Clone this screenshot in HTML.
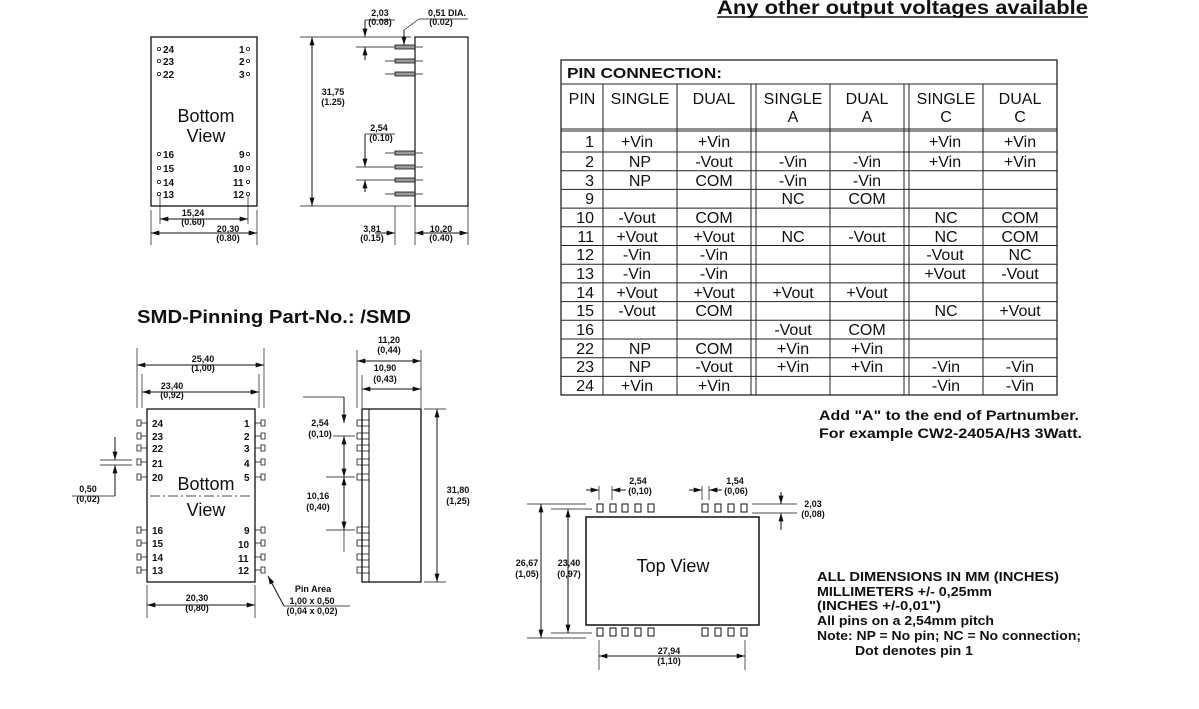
<!DOCTYPE html>
<html><head><meta charset="utf-8"><style>
html,body{margin:0;padding:0;background:#fff}
svg{display:block}
text{font-family:"Liberation Sans",Arial,sans-serif;fill:#111}
.d{font-size:9px;font-weight:bold;text-anchor:middle}
.p{font-size:10px;font-weight:bold}
.t{font-size:16px;text-anchor:middle}
.n{font-size:14px;font-weight:bold}
</style></head><body>
<svg width="1199" height="709" viewBox="0 0 1199 709" xmlns="http://www.w3.org/2000/svg">
<defs>
<marker id="a" viewBox="0 0 10 6" refX="10" refY="3" markerWidth="9" markerHeight="5" markerUnits="userSpaceOnUse" orient="auto-start-reverse"><path d="M0,0L10,3L0,6z" fill="#111"/></marker>
</defs>

<!-- Title -->
<text x="717" y="14" style="font-size:19px;font-weight:bold" textLength="371" lengthAdjust="spacingAndGlyphs">Any other output voltages available</text>
<line x1="717" y1="17" x2="1088" y2="17" stroke="#111" stroke-width="1.5"/>

<!-- Top-left bottom view -->
<g stroke="#111" fill="none">
<rect x="151" y="37" width="106" height="169" stroke-width="1.3"/>
<g stroke-width="0.8">
<circle cx="159" cy="49" r="1.6"/><circle cx="159" cy="61" r="1.6"/><circle cx="159" cy="74" r="1.6"/>
<circle cx="248" cy="49" r="1.6"/><circle cx="248" cy="61" r="1.6"/><circle cx="248" cy="74" r="1.6"/>
<circle cx="159" cy="154" r="1.6"/><circle cx="159" cy="168" r="1.6"/><circle cx="159" cy="182" r="1.6"/><circle cx="159" cy="194" r="1.6"/>
<circle cx="248" cy="154" r="1.6"/><circle cx="248" cy="168" r="1.6"/><circle cx="248" cy="182" r="1.6"/><circle cx="248" cy="194" r="1.6"/>
</g>
<line x1="151" y1="210" x2="151" y2="245" stroke-width="0.7"/>
<line x1="257" y1="210" x2="257" y2="245" stroke-width="0.7"/>
<line x1="160" y1="196" x2="160" y2="224" stroke-width="0.7"/>
<line x1="248" y1="196" x2="248" y2="224" stroke-width="0.7"/>
<line x1="160" y1="219" x2="248" y2="219" marker-start="url(#a)" marker-end="url(#a)"/>
<line x1="151" y1="233" x2="257" y2="233" marker-start="url(#a)" marker-end="url(#a)"/>
</g>
<text class="p" x="163" y="53">24</text><text class="p" x="163" y="65">23</text><text class="p" x="163" y="78">22</text>
<text class="p" x="239" y="53">1</text><text class="p" x="239" y="65">2</text><text class="p" x="239" y="78">3</text>
<text class="p" x="163" y="158">16</text><text class="p" x="163" y="172">15</text><text class="p" x="163" y="186">14</text><text class="p" x="163" y="198">13</text>
<text class="p" x="239" y="158">9</text><text class="p" x="233" y="172">10</text><text class="p" x="233" y="186">11</text><text class="p" x="233" y="198">12</text>
<text x="206" y="122" style="font-size:18px;text-anchor:middle">Bottom</text>
<text x="206" y="142" style="font-size:18px;text-anchor:middle">View</text>
<text class="d" x="193" y="216">15,24</text><text class="d" x="193" y="225">(0.60)</text>
<text class="d" x="228" y="232">20,30</text><text class="d" x="228" y="241">(0.80)</text>

<!-- Top-middle side view -->
<g stroke="#111" fill="none">
<line x1="300" y1="37" x2="411" y2="37" stroke-width="0.8"/>
<line x1="300" y1="206" x2="411" y2="206" stroke-width="0.8"/>
<rect x="415" y="37" width="53" height="169" stroke-width="1.2"/>
<line x1="312" y1="37" x2="312" y2="206" marker-start="url(#a)" marker-end="url(#a)"/>
<g stroke-width="0.8">
<line x1="356" y1="47" x2="423" y2="47"/><line x1="385" y1="61" x2="423" y2="61"/><line x1="385" y1="74" x2="423" y2="74"/>
<line x1="385" y1="153" x2="423" y2="153"/><line x1="356" y1="167" x2="423" y2="167"/><line x1="356" y1="180" x2="423" y2="180"/><line x1="385" y1="194" x2="423" y2="194"/>
</g>
<g fill="#999" stroke-width="0.8">
<rect x="395" y="45" width="20" height="4"/><rect x="395" y="59" width="20" height="4"/><rect x="395" y="72" width="20" height="4"/>
<rect x="395" y="151" width="20" height="4"/><rect x="395" y="165" width="20" height="4"/><rect x="395" y="178" width="20" height="4"/><rect x="395" y="192" width="20" height="4"/>
</g>
<line x1="365" y1="20" x2="365" y2="37" marker-end="url(#a)"/>
<line x1="365" y1="60" x2="365" y2="47" marker-end="url(#a)"/>
<line x1="365" y1="20" x2="395" y2="20" stroke-width="0.7"/>
<line x1="404" y1="30" x2="404" y2="45" marker-end="url(#a)"/>
<line x1="404" y1="30" x2="419" y2="19" stroke-width="0.7"/>
<line x1="419" y1="19" x2="468" y2="19" stroke-width="0.7"/>
<line x1="365" y1="134" x2="395" y2="134" stroke-width="0.7"/>
<line x1="365" y1="134" x2="365" y2="167" marker-end="url(#a)"/>
<line x1="365" y1="192" x2="365" y2="180" marker-end="url(#a)"/>
<line x1="395" y1="206" x2="395" y2="245" stroke-width="0.7"/>
<line x1="415" y1="206" x2="415" y2="245" stroke-width="0.7"/>
<line x1="468" y1="206" x2="468" y2="245" stroke-width="0.7"/>
<line x1="375" y1="233" x2="395" y2="233" marker-end="url(#a)"/>
<line x1="436" y1="233" x2="415" y2="233" marker-end="url(#a)"/>
<line x1="436" y1="233" x2="468" y2="233" marker-end="url(#a)"/>
</g>
<text class="d" x="333" y="95">31,75</text><text class="d" x="333" y="105">(1.25)</text>
<text class="d" x="380" y="16">2,03</text><text class="d" x="380" y="25">(0.08)</text>
<text class="d" x="447" y="16">0,51 DIA.</text><text class="d" x="441" y="25">(0.02)</text>
<text class="d" x="379" y="131">2,54</text><text class="d" x="381" y="141">(0.10)</text>
<text class="d" x="372" y="232">3,81</text><text class="d" x="372" y="241">(0.15)</text>
<text class="d" x="441" y="232">10,20</text><text class="d" x="441" y="241">(0.40)</text>

<!-- SMD heading -->
<text x="137" y="323" style="font-size:18px;font-weight:bold" textLength="274" lengthAdjust="spacingAndGlyphs">SMD-Pinning  Part-No.: /SMD</text>

<!-- SMD bottom view -->
<g stroke="#111" fill="none">
<rect x="147" y="409" width="108" height="173" stroke-width="1.3"/>
<line x1="150" y1="496" x2="252" y2="496" stroke-width="0.8" stroke-dasharray="10,3,2,3"/>
<g stroke-width="0.8">
<path d="M137,420h4v6h-4zM141,423h6"/><path d="M137,433h4v6h-4zM141,436h6"/><path d="M137,445h4v6h-4zM141,448h6"/><path d="M137,459h4v6h-4zM141,462h6"/><path d="M137,474h4v6h-4zM141,477h6"/>
<path d="M137,527h4v6h-4zM141,530h6"/><path d="M137,540h4v6h-4zM141,543h6"/><path d="M137,554h4v6h-4zM141,557h6"/><path d="M137,567h4v6h-4zM141,570h6"/>
<path d="M261,420h4v6h-4zM255,423h6"/><path d="M261,433h4v6h-4zM255,436h6"/><path d="M261,445h4v6h-4zM255,448h6"/><path d="M261,459h4v6h-4zM255,462h6"/><path d="M261,474h4v6h-4zM255,477h6"/>
<path d="M261,527h4v6h-4zM255,530h6"/><path d="M261,540h4v6h-4zM255,543h6"/><path d="M261,554h4v6h-4zM255,557h6"/><path d="M261,567h4v6h-4zM255,570h6"/>
</g>
<line x1="137" y1="348" x2="137" y2="408" stroke-width="0.7"/>
<line x1="264" y1="348" x2="264" y2="408" stroke-width="0.7"/>
<line x1="142" y1="374" x2="142" y2="408" stroke-width="0.7"/>
<line x1="259" y1="374" x2="259" y2="408" stroke-width="0.7"/>
<line x1="137" y1="365" x2="264" y2="365" marker-start="url(#a)" marker-end="url(#a)"/>
<line x1="142" y1="392" x2="259" y2="392" marker-start="url(#a)" marker-end="url(#a)"/>
<line x1="100" y1="460" x2="132" y2="460" stroke-width="0.7"/>
<line x1="100" y1="465" x2="132" y2="465" stroke-width="0.7"/>
<line x1="115" y1="437" x2="115" y2="460" marker-end="url(#a)"/>
<line x1="115" y1="496" x2="115" y2="465" marker-end="url(#a)"/>
<line x1="72" y1="496" x2="115" y2="496" stroke-width="0.7"/>
<line x1="147" y1="585" x2="147" y2="618" stroke-width="0.7"/>
<line x1="255" y1="585" x2="255" y2="618" stroke-width="0.7"/>
<line x1="147" y1="605" x2="255" y2="605" marker-start="url(#a)" marker-end="url(#a)"/>
<line x1="284" y1="606" x2="268" y2="576" marker-end="url(#a)"/>
<line x1="284" y1="606" x2="350" y2="606" stroke-width="0.7"/>
</g>
<text class="p" x="152" y="427">24</text><text class="p" x="152" y="440">23</text><text class="p" x="152" y="452">22</text><text class="p" x="152" y="467">21</text><text class="p" x="152" y="481">20</text>
<text class="p" x="152" y="534">16</text><text class="p" x="152" y="547">15</text><text class="p" x="152" y="561">14</text><text class="p" x="152" y="574">13</text>
<text class="p" x="244" y="427">1</text><text class="p" x="244" y="440">2</text><text class="p" x="244" y="452">3</text><text class="p" x="244" y="467">4</text><text class="p" x="244" y="481">5</text>
<text class="p" x="244" y="534">9</text><text class="p" x="238" y="548">10</text><text class="p" x="238" y="562">11</text><text class="p" x="238" y="574">12</text>
<text x="206" y="490" style="font-size:18px;text-anchor:middle">Bottom</text>
<text x="206" y="516" style="font-size:18px;text-anchor:middle">View</text>
<text class="d" x="203" y="362">25,40</text><text class="d" x="203" y="371">(1,00)</text>
<text class="d" x="172" y="389">23,40</text><text class="d" x="172" y="398">(0,92)</text>
<text class="d" x="88" y="492">0,50</text><text class="d" x="88" y="502">(0,02)</text>
<text class="d" x="197" y="601">20,30</text><text class="d" x="197" y="611">(0,80)</text>
<text class="d" x="313" y="592">Pin Area</text><text class="d" x="312" y="604">1,00 x 0,50</text><text class="d" x="312" y="614">(0,04 x 0,02)</text>

<!-- SMD side view -->
<g stroke="#111" fill="none">
<rect x="362" y="409" width="59" height="173" stroke-width="1.3"/>
<line x1="369" y1="409" x2="369" y2="582" stroke-width="1"/>
<g stroke-width="0.8">
<path d="M357,420h5v6h-5zM357,433h5v6h-5zM357,445h5v6h-5zM357,459h5v6h-5zM357,474h5v6h-5zM357,527h5v6h-5zM357,540h5v6h-5zM357,554h5v6h-5zM357,567h5v6h-5z"/>
<path d="M362,420h7v6h-7zM362,433h7v6h-7zM362,445h7v6h-7zM362,459h7v6h-7zM362,474h7v6h-7zM362,527h7v6h-7zM362,540h7v6h-7zM362,554h7v6h-7zM362,567h7v6h-7z"/>
</g>
<line x1="357" y1="350" x2="357" y2="408" stroke-width="0.7"/>
<line x1="362" y1="375" x2="362" y2="408" stroke-width="0.7"/>
<line x1="421" y1="350" x2="421" y2="408" stroke-width="0.7"/>
<line x1="357" y1="361" x2="421" y2="361" marker-start="url(#a)" marker-end="url(#a)"/>
<line x1="362" y1="389" x2="421" y2="389" marker-start="url(#a)" marker-end="url(#a)"/>
<line x1="424" y1="409" x2="446" y2="409" stroke-width="0.7"/>
<line x1="424" y1="582" x2="446" y2="582" stroke-width="0.7"/>
<line x1="437" y1="409" x2="437" y2="582" marker-start="url(#a)" marker-end="url(#a)"/>
<line x1="303" y1="397" x2="344" y2="397" stroke-width="0.7"/>
<line x1="344" y1="397" x2="344" y2="423" marker-end="url(#a)"/>
<line x1="333" y1="436" x2="355" y2="436" stroke-width="0.7"/>
<line x1="344" y1="436" x2="344" y2="477" marker-start="url(#a)" marker-end="url(#a)"/>
<line x1="326" y1="477" x2="355" y2="477" stroke-width="0.7"/>
<line x1="344" y1="477" x2="344" y2="530" marker-start="url(#a)" marker-end="url(#a)"/>
<line x1="326" y1="530" x2="355" y2="530" stroke-width="0.7"/>
<line x1="344" y1="530" x2="344" y2="552" stroke-width="0.7"/>
</g>
<text class="d" x="389" y="343">11,20</text><text class="d" x="389" y="353">(0,44)</text>
<text class="d" x="385" y="371">10,90</text><text class="d" x="385" y="382">(0,43)</text>
<text class="d" x="458" y="493">31,80</text><text class="d" x="458" y="504">(1,25)</text>
<text class="d" x="320" y="426">2,54</text><text class="d" x="320" y="437">(0,10)</text>
<text class="d" x="318" y="499">10,16</text><text class="d" x="318" y="510">(0,40)</text>

<!-- Top view -->
<g stroke="#111" fill="none">
<rect x="586" y="517" width="173" height="108" stroke-width="1.5"/>
<g stroke-width="1">
<rect x="597" y="504" width="6" height="8"/><rect x="610" y="504" width="6" height="8"/><rect x="622" y="504" width="6" height="8"/><rect x="635" y="504" width="6" height="8"/><rect x="648" y="504" width="6" height="8"/>
<rect x="702" y="504" width="6" height="8"/><rect x="715" y="504" width="6" height="8"/><rect x="728" y="504" width="6" height="8"/><rect x="741" y="504" width="6" height="8"/>
<rect x="597" y="628" width="6" height="8"/><rect x="610" y="628" width="6" height="8"/><rect x="622" y="628" width="6" height="8"/><rect x="635" y="628" width="6" height="8"/><rect x="648" y="628" width="6" height="8"/>
<rect x="702" y="628" width="6" height="8"/><rect x="715" y="628" width="6" height="8"/><rect x="728" y="628" width="6" height="8"/><rect x="741" y="628" width="6" height="8"/>
</g>
<line x1="527" y1="504" x2="586" y2="504" stroke-width="0.7"/>
<line x1="551" y1="509" x2="592" y2="509" stroke-width="0.7"/>
<line x1="551" y1="633" x2="592" y2="633" stroke-width="0.7"/>
<line x1="527" y1="638" x2="586" y2="638" stroke-width="0.7"/>
<line x1="541" y1="504" x2="541" y2="638" marker-start="url(#a)" marker-end="url(#a)"/>
<line x1="568" y1="509" x2="568" y2="633" marker-start="url(#a)" marker-end="url(#a)"/>
<line x1="599" y1="486" x2="599" y2="500" stroke-width="0.7"/>
<line x1="612" y1="486" x2="612" y2="500" stroke-width="0.7"/>
<line x1="586" y1="490" x2="599" y2="490" marker-end="url(#a)"/>
<line x1="626" y1="490" x2="612" y2="490" marker-end="url(#a)"/>
<line x1="702" y1="486" x2="702" y2="500" stroke-width="0.7"/>
<line x1="709" y1="486" x2="709" y2="500" stroke-width="0.7"/>
<line x1="689" y1="490" x2="702" y2="490" marker-end="url(#a)"/>
<line x1="722" y1="490" x2="709" y2="490" marker-end="url(#a)"/>
<line x1="752" y1="504" x2="797" y2="504" stroke-width="0.7"/>
<line x1="752" y1="513" x2="797" y2="513" stroke-width="0.7"/>
<line x1="781" y1="492" x2="781" y2="504" marker-end="url(#a)"/>
<line x1="781" y1="530" x2="781" y2="513" marker-end="url(#a)"/>
<line x1="599" y1="640" x2="599" y2="670" stroke-width="0.7"/>
<line x1="745" y1="640" x2="745" y2="670" stroke-width="0.7"/>
<line x1="599" y1="656" x2="745" y2="656" marker-start="url(#a)" marker-end="url(#a)"/>
</g>
<text x="673" y="572" style="font-size:18px;text-anchor:middle">Top View</text>
<text class="d" x="638" y="484">2,54</text><text class="d" x="640" y="494">(0,10)</text>
<text class="d" x="735" y="484">1,54</text><text class="d" x="736" y="494">(0,06)</text>
<text class="d" x="813" y="507">2,03</text><text class="d" x="813" y="517">(0,08)</text>
<text class="d" x="527" y="566">26,67</text><text class="d" x="527" y="577">(1,05)</text>
<text class="d" x="569" y="566">23,40</text><text class="d" x="569" y="577">(0,97)</text>
<text class="d" x="669" y="654">27,94</text><text class="d" x="669" y="664">(1,10)</text>

<!-- Notes -->
<text class="n" x="819" y="420" textLength="260" lengthAdjust="spacingAndGlyphs">Add "A" to the end of Partnumber.</text>
<text class="n" x="819" y="438" textLength="263" lengthAdjust="spacingAndGlyphs">For example CW2-2405A/H3 3Watt.</text>
<g style="font-size:13px;font-weight:bold">
<text x="817" y="581" textLength="242" lengthAdjust="spacingAndGlyphs">ALL  DIMENSIONS IN  MM  (INCHES)</text>
<text x="817" y="596" textLength="175" lengthAdjust="spacingAndGlyphs">MILLIMETERS  +/- 0,25mm</text>
<text x="817" y="610" textLength="124" lengthAdjust="spacingAndGlyphs">(INCHES   +/-0,01")</text>
<text x="817" y="625" textLength="177" lengthAdjust="spacingAndGlyphs">All pins on a 2,54mm pitch</text>
<text x="817" y="640" textLength="264" lengthAdjust="spacingAndGlyphs">Note: NP = No pin; NC = No connection;</text>
<text x="855" y="655" textLength="118" lengthAdjust="spacingAndGlyphs">Dot denotes pin 1</text>
</g>

<!-- Table -->
<g stroke="#222" fill="none" stroke-width="1">
<rect x="561" y="60" width="496" height="335" stroke-width="1.3"/>
<line x1="561" y1="84" x2="1057" y2="84"/>
<line x1="561" y1="129" x2="1057" y2="129"/>
<line x1="561" y1="131" x2="1057" y2="131"/>
<line x1="603" y1="84" x2="603" y2="395"/>
<line x1="677" y1="84" x2="677" y2="395"/>
<line x1="751" y1="84" x2="751" y2="395"/>
<line x1="756" y1="84" x2="756" y2="395"/>
<line x1="830" y1="84" x2="830" y2="395"/>
<line x1="904" y1="84" x2="904" y2="395"/>
<line x1="909" y1="84" x2="909" y2="395"/>
<line x1="983" y1="84" x2="983" y2="395"/>
<line x1="561" y1="152" x2="1057" y2="152"/>
<line x1="561" y1="170.7" x2="1057" y2="170.7"/>
<line x1="561" y1="189.4" x2="1057" y2="189.4"/>
<line x1="561" y1="208.1" x2="1057" y2="208.1"/>
<line x1="561" y1="226.8" x2="1057" y2="226.8"/>
<line x1="561" y1="245.5" x2="1057" y2="245.5"/>
<line x1="561" y1="264.2" x2="1057" y2="264.2"/>
<line x1="561" y1="282.9" x2="1057" y2="282.9"/>
<line x1="561" y1="301.6" x2="1057" y2="301.6"/>
<line x1="561" y1="320.3" x2="1057" y2="320.3"/>
<line x1="561" y1="339" x2="1057" y2="339"/>
<line x1="561" y1="357.7" x2="1057" y2="357.7"/>
<line x1="561" y1="376.4" x2="1057" y2="376.4"/>
</g>
<text x="567" y="78" style="font-size:15px;font-weight:bold" textLength="155" lengthAdjust="spacingAndGlyphs">PIN  CONNECTION:</text>
<text class="t" x="582" y="104">PIN</text>
<text class="t" x="640" y="104">SINGLE</text>
<text class="t" x="714" y="104">DUAL</text>
<text class="t" x="793" y="104">SINGLE</text><text class="t" x="793" y="122">A</text>
<text class="t" x="867" y="104">DUAL</text><text class="t" x="867" y="122">A</text>
<text class="t" x="946" y="104">SINGLE</text><text class="t" x="946" y="122">C</text>
<text class="t" x="1020" y="104">DUAL</text><text class="t" x="1020" y="122">C</text>

<g style="font-size:16px;text-anchor:end">
<text x="594" y="147">1</text><text x="594" y="167">2</text><text x="594" y="186">3</text><text x="594" y="204">9</text>
<text x="594" y="223">10</text><text x="594" y="242">11</text><text x="594" y="260">12</text><text x="594" y="279">13</text>
<text x="594" y="298">14</text><text x="594" y="316">15</text><text x="594" y="335">16</text><text x="594" y="354">22</text>
<text x="594" y="372">23</text><text x="594" y="391">24</text>
</g>
<text class="t" x="637" y="147">+Vin</text><text class="t" x="640" y="167">NP</text><text class="t" x="640" y="186">NP</text>
<text class="t" x="637" y="223">-Vout</text><text class="t" x="637" y="242">+Vout</text><text class="t" x="637" y="260">-Vin</text><text class="t" x="637" y="279">-Vin</text>
<text class="t" x="637" y="298">+Vout</text><text class="t" x="637" y="316">-Vout</text><text class="t" x="640" y="354">NP</text><text class="t" x="640" y="372">NP</text><text class="t" x="637" y="391">+Vin</text>
<text class="t" x="714" y="147">+Vin</text><text class="t" x="714" y="167">-Vout</text><text class="t" x="714" y="186">COM</text>
<text class="t" x="714" y="223">COM</text><text class="t" x="714" y="242">+Vout</text><text class="t" x="714" y="260">-Vin</text><text class="t" x="714" y="279">-Vin</text>
<text class="t" x="714" y="298">+Vout</text><text class="t" x="714" y="316">COM</text><text class="t" x="714" y="354">COM</text><text class="t" x="714" y="372">-Vout</text><text class="t" x="714" y="391">+Vin</text>
<text class="t" x="793" y="167">-Vin</text><text class="t" x="793" y="186">-Vin</text><text class="t" x="793" y="204">NC</text>
<text class="t" x="793" y="242">NC</text><text class="t" x="793" y="298">+Vout</text><text class="t" x="793" y="335">-Vout</text>
<text class="t" x="793" y="354">+Vin</text><text class="t" x="793" y="372">+Vin</text>
<text class="t" x="867" y="167">-Vin</text><text class="t" x="867" y="186">-Vin</text><text class="t" x="867" y="204">COM</text>
<text class="t" x="867" y="242">-Vout</text><text class="t" x="867" y="298">+Vout</text><text class="t" x="867" y="335">COM</text>
<text class="t" x="867" y="354">+Vin</text><text class="t" x="867" y="372">+Vin</text>
<text class="t" x="945" y="147">+Vin</text><text class="t" x="945" y="167">+Vin</text>
<text class="t" x="946" y="223">NC</text><text class="t" x="946" y="242">NC</text><text class="t" x="945" y="260">-Vout</text><text class="t" x="945" y="279">+Vout</text>
<text class="t" x="946" y="316">NC</text><text class="t" x="946" y="372">-Vin</text><text class="t" x="946" y="391">-Vin</text>
<text class="t" x="1020" y="147">+Vin</text><text class="t" x="1020" y="167">+Vin</text>
<text class="t" x="1020" y="223">COM</text><text class="t" x="1020" y="242">COM</text><text class="t" x="1020" y="260">NC</text><text class="t" x="1020" y="279">-Vout</text>
<text class="t" x="1020" y="316">+Vout</text><text class="t" x="1020" y="372">-Vin</text><text class="t" x="1020" y="391">-Vin</text>
</svg>
</body></html>
